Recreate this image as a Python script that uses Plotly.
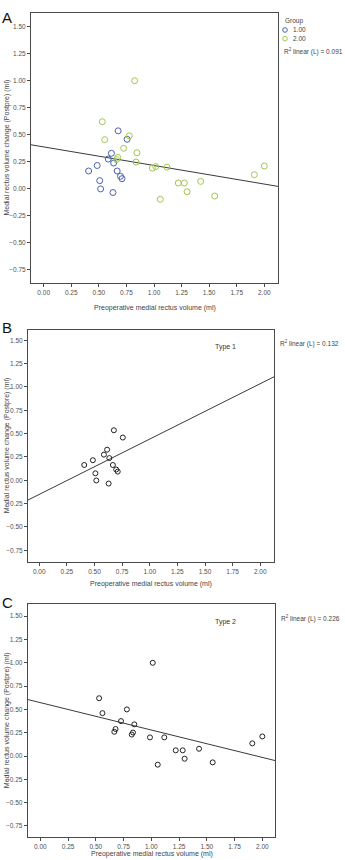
import plotly.graph_objects as go

W, H = 345, 860

# ---------------- data ----------------
group1_x = [0.675, 0.756, 0.614, 0.585, 0.634, 0.485, 0.407, 0.666, 0.696, 0.710, 0.508, 0.516, 0.628]
group1_y = [0.536, 0.458, 0.328, 0.275, 0.238, 0.215, 0.164, 0.164, 0.115, 0.093, 0.075, -0.002, -0.035]

group2_x = [0.825, 0.531, 0.553, 0.776, 0.725, 0.846, 0.837, 0.671, 0.660, 0.985,
            1.016, 1.118, 1.057, 1.220, 1.275, 1.300, 1.423, 1.550, 1.910, 2.000]
group2_y = [1.000, 0.620, 0.454, 0.490, 0.374, 0.333, 0.247, 0.290, 0.270, 0.190,
            0.205, 0.200, -0.098, 0.053, 0.053, -0.028, 0.068, -0.068, 0.130, 0.210]

type1_x = group1_x
type1_y = group1_y

type2_x = [1.013, 0.530, 0.780, 0.560, 0.727, 0.678, 0.667, 0.847, 0.835, 0.824,
           0.988, 1.117, 1.058, 1.220, 1.283, 1.300, 1.430, 1.553, 1.910, 2.000]
type2_y = [1.000, 0.620, 0.500, 0.460, 0.375, 0.290, 0.260, 0.340, 0.252, 0.230,
           0.200, 0.200, -0.093, 0.061, 0.061, -0.029, 0.078, -0.068, 0.136, 0.210]

# fitted lines: (intercept, slope)
fit_A = (0.387, -0.172)
fit_B = (-0.151, 0.593)
fit_C = (0.573, -0.294)

r2_labels = ["0.091", "0.132", "0.226"]
type_labels = ["Type 1", "Type 2"]
group_labels = ["1.00", "2.00"]
panel_letters = ["A", "B", "C"]

y_ticks = [-0.75, -0.50, -0.25, 0.00, 0.25, 0.50, 0.75, 1.00, 1.25, 1.50]
x_ticks = [0.00, 0.25, 0.50, 0.75, 1.00, 1.25, 1.50, 1.75, 2.00]

x_title = "Preoperative medial rectus volume (ml)"
y_title = "Medial rectus volume change (Postpre) (ml)"

# ---------------- layout (pixels) ----------------
BLUE = "#4a63ad"
GREEN = "#a2c651"
FRAME = "#4a4a4a"
TICKC = "#505050"
FONT = "Liberation Sans, Arial, sans-serif"

panels = [
    # left, right, top, bottom (px), x range, y range
    dict(l=31, r=278, t=13, b=283, xr=[-0.115, 2.124], yr=[-0.873, 1.627]),
    dict(l=28, r=274.3, t=330, b=561.7, xr=[-0.102, 2.127], yr=[-0.872, 1.610]),
    dict(l=27.7, r=275.3, t=604, b=837.3, xr=[-0.1135, 2.117], yr=[-0.872, 1.631]),
]

def px(x):
    return x / W

def py(y):
    return 1 - y / H

fig = go.Figure()

layout = dict(
    width=W, height=H, margin=dict(l=0, r=0, t=0, b=0),
    paper_bgcolor="white", plot_bgcolor="white",
    showlegend=False, font=dict(family=FONT, size=7, color="#333"),
)

for i, p in enumerate(panels):
    sfx = "" if i == 0 else str(i + 1)
    layout["xaxis" + sfx] = dict(
        domain=[px(p["l"]), px(p["r"])], range=p["xr"], anchor="y" + sfx,
        tickvals=x_ticks, tickformat=".2f", ticks="outside", ticklen=3, tickwidth=1,
        tickcolor=FRAME, showline=True, linecolor=FRAME, linewidth=1, mirror=True,
        showgrid=False, zeroline=False, tickfont=dict(size=6.5, color=TICKC, family=FONT),
    )
    layout["yaxis" + sfx] = dict(
        domain=[py(p["b"]), py(p["t"])], range=p["yr"], anchor="x" + sfx,
        tickvals=y_ticks, tickformat=".2f", ticks="outside", ticklen=3, tickwidth=1,
        tickcolor=FRAME, showline=True, linecolor=FRAME, linewidth=1, mirror=True,
        showgrid=False, zeroline=False, tickfont=dict(size=6.5, color=TICKC, family=FONT),
    )

fig.update_layout(**layout)

def line_trace(fit, xr, xa, ya):
    b0, b1 = fit
    xs = [xr[0], xr[1]]
    ys = [b0 + b1 * v for v in xs]
    return go.Scatter(x=xs, y=ys, mode="lines", xaxis=xa, yaxis=ya,
                      line=dict(color="#3a3a3a", width=1), hoverinfo="skip")

# Panel A
fig.add_trace(line_trace(fit_A, panels[0]["xr"], "x", "y"))
fig.add_trace(go.Scatter(x=group1_x, y=group1_y, mode="markers", xaxis="x", yaxis="y",
                         marker=dict(symbol="circle-open", size=6, color=BLUE, line=dict(width=1, color=BLUE))))
fig.add_trace(go.Scatter(x=group2_x, y=group2_y, mode="markers", xaxis="x", yaxis="y",
                         marker=dict(symbol="circle-open", size=6, color=GREEN, line=dict(width=1, color=GREEN))))
# Panel B
fig.add_trace(line_trace(fit_B, panels[1]["xr"], "x2", "y2"))
fig.add_trace(go.Scatter(x=type1_x, y=type1_y, mode="markers", xaxis="x2", yaxis="y2",
                         marker=dict(symbol="circle-open", size=5, color="#222", line=dict(width=1, color="#222"))))
# Panel C
fig.add_trace(line_trace(fit_C, panels[2]["xr"], "x3", "y3"))
fig.add_trace(go.Scatter(x=type2_x, y=type2_y, mode="markers", xaxis="x3", yaxis="y3",
                         marker=dict(symbol="circle-open", size=5, color="#222", line=dict(width=1, color="#222"))))

ann = []
shapes = []
title_font = dict(size=7, color="#444", family=FONT)
small_font = dict(size=6.5, color="#444", family=FONT)

x_title_y = [308, 584, 854]
letter_y = [18, 327, 602]
for i, p in enumerate(panels):
    cx = (p["l"] + p["r"]) / 2
    ann.append(dict(x=px(cx), y=py(x_title_y[i]), xref="paper", yref="paper", text=x_title,
                    showarrow=False, font=title_font, xanchor="center", yanchor="middle"))
    ann.append(dict(x=px(0.5), y=py((p["t"] + p["b"]) / 2), xref="paper", yref="paper", text=y_title,
                    showarrow=False, font=title_font, textangle=-90, xanchor="left", yanchor="middle"))
    ann.append(dict(x=px(0), y=py(letter_y[i]), xref="paper", yref="paper", text=panel_letters[i],
                    showarrow=False, font=dict(size=15, color="#111", family=FONT),
                    xanchor="left", yanchor="middle"))

# Panel A legend
ann.append(dict(x=px(283), y=py(21), xref="paper", yref="paper", text="Group", showarrow=False,
                font=small_font, xanchor="left", yanchor="middle"))
for j, (lab, col, yy) in enumerate([(group_labels[0], BLUE, 30), (group_labels[1], GREEN, 38.7)]):
    shapes.append(dict(type="circle", xref="paper", yref="paper",
                       x0=px(282.7), x1=px(287.3), y0=py(yy + 2.3), y1=py(yy - 2.3),
                       line=dict(color=col, width=1)))
    ann.append(dict(x=px(290.5), y=py(yy), xref="paper", yref="paper", text=lab, showarrow=False,
                    font=small_font, xanchor="left", yanchor="middle"))

r2_pos = [(282, 51), (278, 343), (278.5, 618)]
for i, (xx, yy) in enumerate(r2_pos):
    ann.append(dict(x=px(xx), y=py(yy), xref="paper", yref="paper",
                    text="R<sup>2</sup> linear (L) = " + r2_labels[i], showarrow=False,
                    font=small_font, xanchor="left", yanchor="middle"))

for i, yy in enumerate([347, 622]):
    ann.append(dict(x=px(226), y=py(yy), xref="paper", yref="paper", text=type_labels[i],
                    showarrow=False, font=dict(size=7, color="#333", family=FONT),
                    xanchor="center", yanchor="middle"))

fig.update_layout(annotations=ann, shapes=shapes)
fig.write_html("out.html")
